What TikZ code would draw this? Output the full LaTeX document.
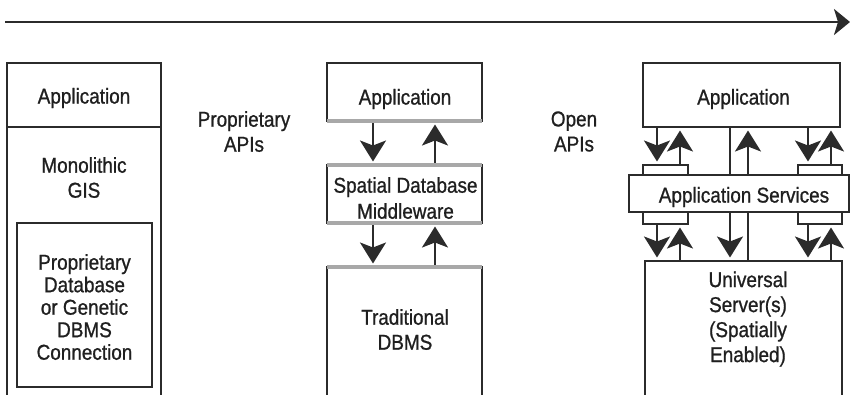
\documentclass[tikz,border=0pt]{standalone}
\usepackage{fontspec}
\setmainfont[FakeStretch=0.88,FakeBold=0.9]{Liberation Sans}
\usetikzlibrary{arrows.meta}
\definecolor{ink}{HTML}{2B2B2B}
\definecolor{barg}{HTML}{A8A8A8}
\definecolor{txt}{HTML}{1F1F1F}
\begin{document}
\begin{tikzpicture}[x=1pt,y=-1pt,
  every node/.style={inner sep=0pt, outer sep=0pt},
  frame/.style={draw=ink, line width=2.2pt},
  blk/.style 2 args={rectangle, fill=white, minimum width=#1, minimum height=#2},
  bar/.style={draw=barg, line width=4.5pt},
  lbl/.style={text=txt, align=center, font=\fontsize{21.5}{25}\selectfont},
  arr/.style={draw=ink, line width=2.2pt, shorten >=3.5pt,
    -{Stealth[length=21pt,width=26pt,inset=5pt]}},
  toparr/.style={draw=ink, line width=2.6pt,
    -{Stealth[length=16pt,width=26pt,inset=4pt]}}]
\useasboundingbox (0,0) rectangle (850,394);

% time line across the top
\coordinate (t0) at (5,22);
\coordinate (t1) at (850,22);
\draw[toparr] (t0) -- (t1);

% ---- monolithic GIS ----
\node[blk={154}{64}, frame] (appL) at (84,95) {};
\node[lbl] (tAppL) at (84,98) {Application};
\coordinate (lBL) at (7,400);
\coordinate (lBR) at (161,400);
\draw[frame] (appL.south west) -- (lBL);
\draw[frame] (appL.south east) -- (lBR);
\node[lbl] (tMono) at (84,177.5) {Monolithic\\GIS};
\node[blk={135}{164}, frame] (dbL) at (84.5,305) {};
\node[lbl, font=\fontsize{21.5}{22.5}\selectfont] (tDbL) at (84.5,307)
  {Proprietary\\Database\\or Genetic\\DBMS\\Connection};

\node[lbl] (tProp) at (244,131.5) {Proprietary\\APIs};
\node[lbl] (tOpen) at (574,131.5) {Open\\APIs};

% ---- middleware architecture ----
\node[blk={155}{58}, frame] (appM) at (404.5,92) {};
\node[blk={155}{58}, frame] (mwM) at (404.5,194) {};
\node[blk={155}{135}] (dbM) at (404.5,334.5) {};
\draw[frame] (dbM.south west) -- (dbM.north west) -- (dbM.north east) -- (dbM.south east);

\draw[arr] (373,0 |- appM.south) -- (373,0 |- mwM.north);
\draw[arr] (435,0 |- mwM.north) -- (435,0 |- appM.south);
\draw[arr] (373,0 |- mwM.south) -- (373,0 |- dbM.north);
\draw[arr] (435,0 |- dbM.north) -- (435,0 |- mwM.south);

\draw[bar] (appM.south west) -- (appM.south east);
\draw[bar] (mwM.north west) -- (mwM.north east);
\draw[bar] (mwM.south west) -- (mwM.south east);
\draw[bar] (dbM.north west) -- (dbM.north east);

\node[lbl] (tAppM) at (405,99) {Application};
\node[lbl, font=\fontsize{21.5}{26}\selectfont] (tMw) at (405.5,198) {Spatial Database\\Middleware};
\node[lbl] (tDbM) at (405,329.5) {Traditional\\DBMS};

% ---- universal server architecture ----
\node[blk={197}{64}, frame] (appR) at (741.5,95) {};
\node[blk={197}{139}] (uni) at (743.5,330.5) {};
\draw[frame] (uni.south west) -- (uni.north west) -- (uni.north east) -- (uni.south east);
\node[blk={45}{10}, frame] (tabTL) at (665.5,170) {};
\node[blk={44}{10}, frame] (tabTR) at (820,170) {};
\node[blk={45}{12}, frame] (tabBL) at (665.5,218) {};
\node[blk={44}{12}, frame] (tabBR) at (820,218) {};

% calls between the application and the services
\draw[arr] (657,0 |- appR.south) -- (657,0 |- tabTL.north);
\draw[arr] (680,0 |- tabTL.north) -- (680,0 |- appR.south);
\draw[arr] (808,0 |- appR.south) -- (808,0 |- tabTR.north);
\draw[arr] (831,0 |- tabTR.north) -- (831,0 |- appR.south);
% calls between the services and the server
\draw[arr] (657,0 |- tabBL.south) -- (657,0 |- uni.north);
\draw[arr] (680,0 |- uni.north) -- (680,0 |- tabBL.south);
\draw[arr] (808,0 |- tabBR.south) -- (808,0 |- uni.north);
\draw[arr] (831,0 |- uni.north) -- (831,0 |- tabBR.south);
% direct calls passing behind the services layer
\draw[arr] (730,0 |- appR.south) -- (730,0 |- uni.north);
\draw[arr] (748,0 |- uni.north) -- (748,0 |- appR.south);

\node[blk={220}{37}, frame] (svc) at (739,193.5) {};

\node[lbl] (tAppR) at (743.5,99) {Application};
\node[lbl] (tSvc) at (744,197) {Application Services};
\node[lbl] (tUni) at (748,319) {Universal\\Server(s)\\(Spatially\\Enabled)};
\end{tikzpicture}
\end{document}
